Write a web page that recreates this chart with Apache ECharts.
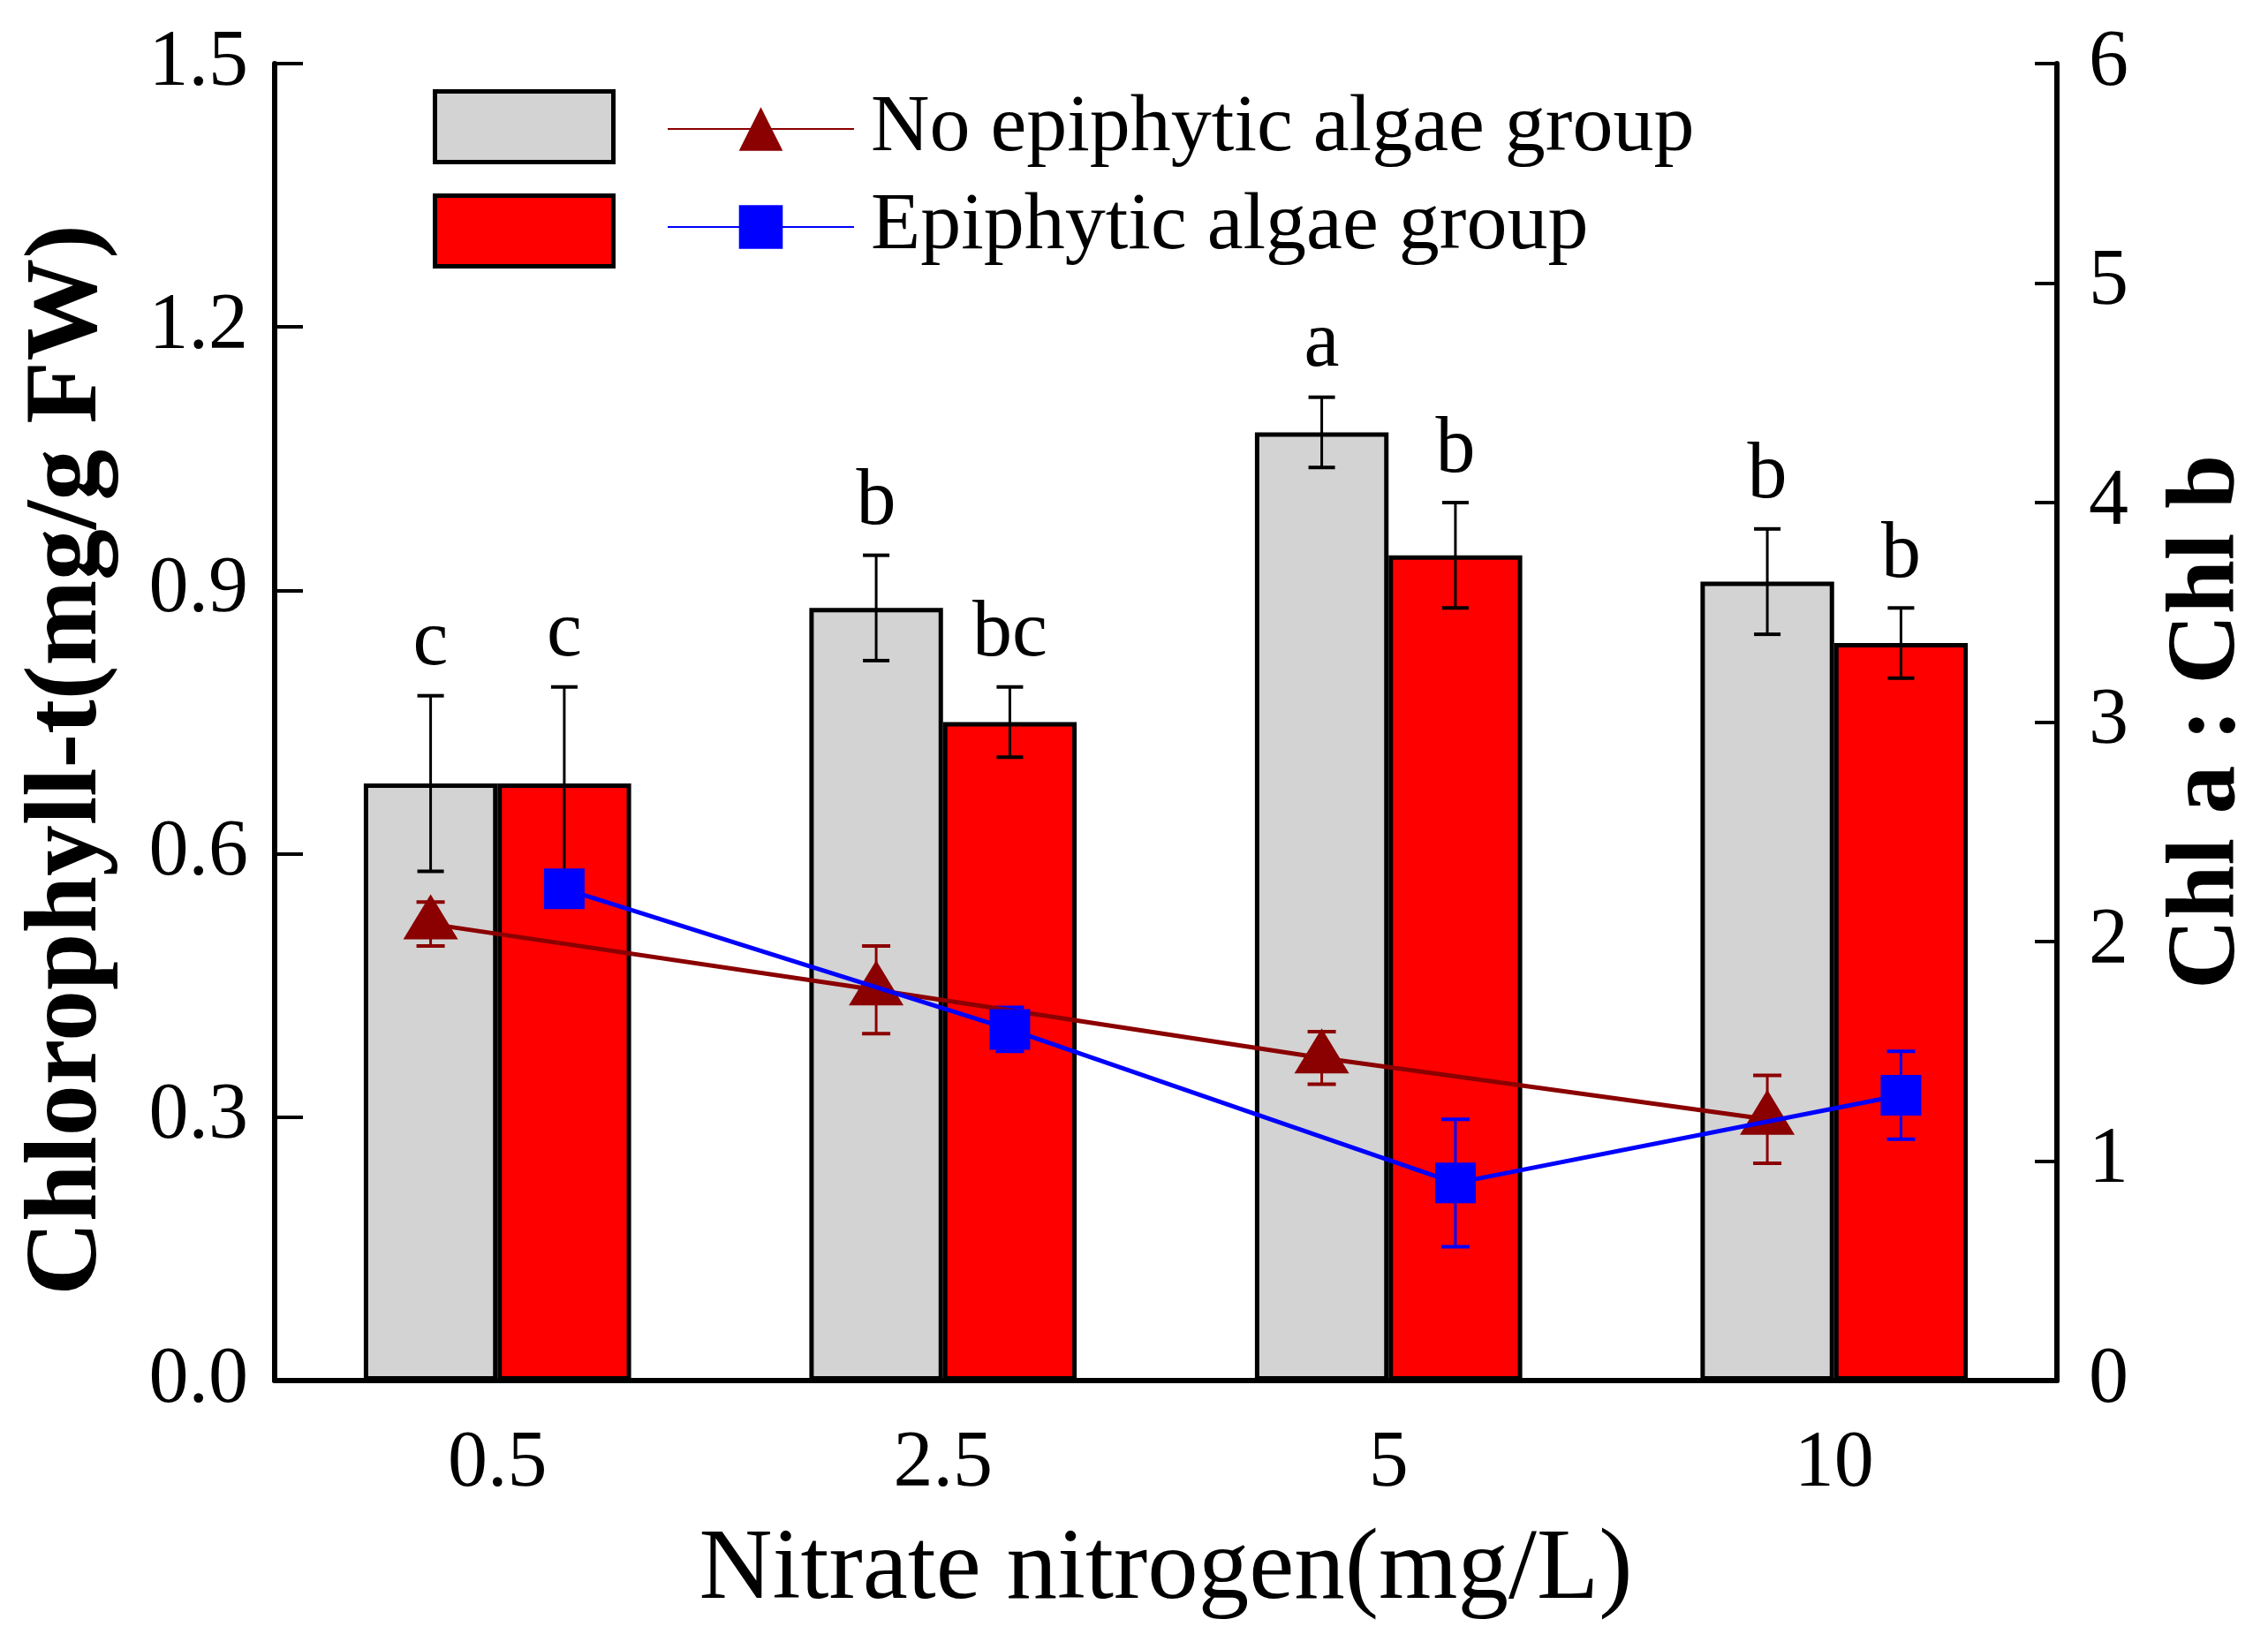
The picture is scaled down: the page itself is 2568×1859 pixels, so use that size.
<!DOCTYPE html>
<html>
<head>
<meta charset="utf-8">
<script src="https://cdn.jsdelivr.net/npm/echarts@6/dist/echarts.min.js"></script>
<style>
  html, body { margin: 0; padding: 0; background: #fff; }
  #chart { width: 2568px; height: 1859px; }
</style>
</head>
<body>
<div id="chart"></div>
<script>
// nitrate levels on the x axis
var categories = ['0.5', '2.5', '5', '10'];

// total chlorophyll (left axis), bars
var chlNoAlgae = [0.68, 0.88, 1.08, 0.91];
var chlNoAlgaeErr = [0.10, 0.06, 0.04, 0.06];
var chlAlgae = [0.68, 0.75, 0.94, 0.84];
var chlAlgaeErr = [0.11, 0.04, 0.06, 0.04];
var lettersNoAlgae = ['c', 'b', 'a', 'b'];
var lettersAlgae = ['c', 'bc', 'b', 'b'];

// Chl a : Chl b (right axis), lines
var ratioNoAlgae = [2.08, 1.78, 1.47, 1.19];
var ratioNoAlgaeErr = [0.10, 0.20, 0.12, 0.20];
var ratioAlgae = [2.24, 1.60, 0.90, 1.30];
var ratioAlgaeErr = [0.05, 0.10, 0.29, 0.20];

var legendNames = ['No epiphytic algae group', 'Epiphytic algae group'];

var FONT = 'Liberation Serif';
var BAR_W = 0.3; // fraction of the category band per bar

var chart = echarts.init(document.getElementById('chart'), null, {renderer: 'canvas'});

// error bars (+ letters) for the bars, drawn on the category axis
function barErrors(vals, errs, letters, off) {
    return {
        type: 'custom',
        xAxisIndex: 0,
        yAxisIndex: 0,
        z: 5,
        silent: true,
        data: vals.map(function (v, i) { return [i, v, errs[i]]; }),
        renderItem: function (params, api) {
            var i = api.value(0), v = api.value(1), e = api.value(2);
            var band = api.size([1, 0])[0];
            var x = api.coord([i, v])[0] + off * band;
            var top = api.coord([i, v + e])[1];
            var bot = api.coord([i, v - e])[1];
            var st = {stroke: '#000', lineWidth: 3};
            var cap = {stroke: '#000', lineWidth: 4};
            return {
                type: 'group',
                children: [
                    {type: 'line', shape: {x1: x, y1: top, x2: x, y2: bot}, style: st},
                    {type: 'line', shape: {x1: x - 15, y1: top, x2: x + 15, y2: top}, style: cap},
                    {type: 'line', shape: {x1: x - 15, y1: bot, x2: x + 15, y2: bot}, style: cap},
                    {type: 'text', x: x, y: top - 14, style: {
                        text: letters[params.dataIndex], fill: '#000',
                        font: '90px "' + FONT + '"', align: 'center', verticalAlign: 'bottom'
                    }}
                ]
            };
        }
    };
}

// points for the ratio lines sit at the centre of their bar
function linePoints(vals, off) {
    return vals.map(function (v, i) { return [i + 0.5 + off, v]; });
}

function lineErrors(vals, errs, off, color) {
    return {
        type: 'custom',
        xAxisIndex: 1,
        yAxisIndex: 1,
        z: 6,
        silent: true,
        data: vals.map(function (v, i) { return [i + 0.5 + off, v, errs[i]]; }),
        renderItem: function (params, api) {
            var x = api.coord([api.value(0), api.value(1)])[0];
            var top = api.coord([api.value(0), api.value(1) + api.value(2)])[1];
            var bot = api.coord([api.value(0), api.value(1) - api.value(2)])[1];
            var st = {stroke: color, lineWidth: 3};
            var cap = {stroke: color, lineWidth: 4};
            return {
                type: 'group',
                children: [
                    {type: 'line', shape: {x1: x, y1: top, x2: x, y2: bot}, style: st},
                    {type: 'line', shape: {x1: x - 16, y1: top, x2: x + 16, y2: top}, style: cap},
                    {type: 'line', shape: {x1: x - 16, y1: bot, x2: x + 16, y2: bot}, style: cap}
                ]
            };
        }
    };
}

var option = {
    animation: false,
    backgroundColor: '#fff',
    textStyle: {fontFamily: FONT, color: '#000'},
    grid: {left: 311, right: 239, top: 72, bottom: 296, containLabel: false},
    legend: [{
        // bar swatches, no text
        data: ['barNo', 'barYes'],
        orient: 'vertical',
        left: 490,
        top: 101,
        padding: 0,
        icon: 'rect',
        itemWidth: 202,
        itemHeight: 80,
        itemGap: 33,
        selectedMode: false,
        formatter: function () { return ''; },
        itemStyle: {borderColor: '#000', borderWidth: 5}
    }, {
        data: legendNames,
        orient: 'vertical',
        left: 755,
        top: 100,
        padding: 0,
        itemWidth: 211,
        itemHeight: 62,
        itemGap: 19,
        selectedMode: false,
        textStyle: {fontFamily: FONT, fontSize: 92, color: '#000', padding: [0, 0, 0, 14]}
    }],
    xAxis: [{
        type: 'category',
        data: categories,
        boundaryGap: true,
        axisLine: {lineStyle: {color: '#000', width: 6}},
        axisTick: {alignWithLabel: true, length: 31, lineStyle: {color: '#000', width: 3}},
        axisLabel: {fontFamily: FONT, fontSize: 90, color: '#000', margin: 50},
        name: 'Nitrate nitrogen(mg/L)',
        nameLocation: 'middle',
        nameGap: 158,
        nameTextStyle: {fontFamily: FONT, fontSize: 115, color: '#000'},
        splitLine: {show: false}
    }, {
        type: 'value',
        min: 0,
        max: categories.length,
        show: false
    }],
    yAxis: [{
        type: 'value',
        min: 0,
        max: 1.5,
        interval: 0.3,
        position: 'left',
        axisLine: {show: true, lineStyle: {color: '#000', width: 6}},
        axisTick: {show: true, inside: true, length: 32, lineStyle: {color: '#000', width: 4}},
        axisLabel: {fontFamily: FONT, fontSize: 90, color: '#000', margin: 30,
            formatter: function (v) { return v.toFixed(1); }},
        splitLine: {show: false},
        name: 'Chlorophyll-t(mg/g FW)',
        nameLocation: 'middle',
        nameGap: 175,
        nameTextStyle: {fontFamily: FONT, fontSize: 116, fontWeight: 'bold', color: '#000',
            padding: [0, 86, 0, 0]}
    }, {
        type: 'value',
        min: 0,
        max: 6,
        interval: 1,
        position: 'right',
        axisLine: {show: true, lineStyle: {color: '#000', width: 6}},
        axisTick: {show: true, inside: true, length: 25, lineStyle: {color: '#000', width: 4}},
        axisLabel: {fontFamily: FONT, fontSize: 90, color: '#000', margin: 36},
        splitLine: {show: false},
        name: 'Chl a : Chl b',
        nameLocation: 'middle',
        nameRotate: 90,
        nameGap: 117,
        nameTextStyle: {fontFamily: FONT, fontSize: 110, fontWeight: 'bold', color: '#000'}
    }],
    series: [{
        name: 'barNo',
        type: 'bar',
        data: chlNoAlgae,
        barWidth: (BAR_W * 100) + '%',
        barGap: '0%',
        itemStyle: {color: '#D3D3D3', borderColor: '#000', borderWidth: 5},
        z: 2
    }, {
        name: 'barYes',
        type: 'bar',
        data: chlAlgae,
        barWidth: (BAR_W * 100) + '%',
        barGap: '0%',
        itemStyle: {color: '#FF0000', borderColor: '#000', borderWidth: 5},
        z: 2
    },
    barErrors(chlNoAlgae, chlNoAlgaeErr, lettersNoAlgae, -BAR_W / 2),
    barErrors(chlAlgae, chlAlgaeErr, lettersAlgae, BAR_W / 2),
    lineErrors(ratioNoAlgae, ratioNoAlgaeErr, -BAR_W / 2, '#8B0000'),
    lineErrors(ratioAlgae, ratioAlgaeErr, BAR_W / 2, '#0000FF'),
    {
        name: legendNames[0],
        type: 'line',
        xAxisIndex: 1,
        yAxisIndex: 1,
        data: linePoints(ratioNoAlgae, -BAR_W / 2),
        symbol: 'triangle',
        symbolSize: [62, 51],
        symbolOffset: [0, -8],
        showAllSymbol: true,
        itemStyle: {color: '#8B0000'},
        lineStyle: {color: '#8B0000', width: 5},
        z: 8
    }, {
        name: legendNames[1],
        type: 'line',
        xAxisIndex: 1,
        yAxisIndex: 1,
        data: linePoints(ratioAlgae, BAR_W / 2),
        symbol: 'rect',
        symbolSize: 46,
        showAllSymbol: true,
        itemStyle: {color: '#0000FF'},
        lineStyle: {color: '#0000FF', width: 5},
        z: 9
    }]
};

chart.setOption(option);
</script>
</body>
</html>
